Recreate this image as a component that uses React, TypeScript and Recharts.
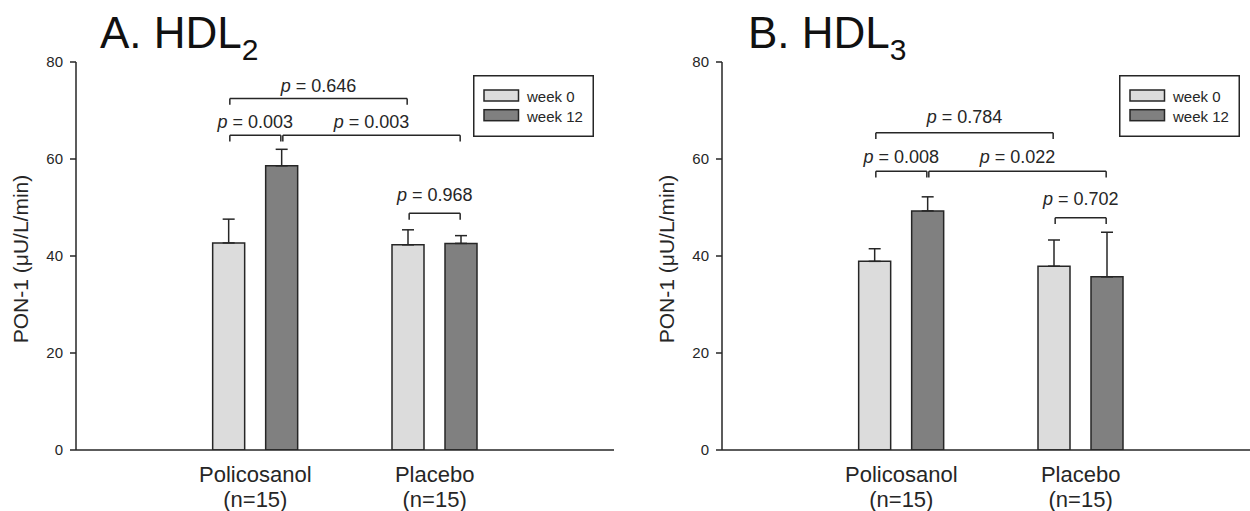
import React from 'react';
import { BarChart, Bar, XAxis, YAxis, ErrorBar, ReferenceLine, ReferenceDot, Legend } from 'recharts';

const FONT = '"Liberation Sans", Arial, Helvetica, sans-serif';
const INK = '#262626';

// ---- data ----
const categories = ['Policosanol', 'Placebo'];
const groupSizes = ['(n=15)', '(n=15)'];
const seriesNames = ['week 0', 'week 12'];
const seriesColors = ['#dcdcdc', '#808080'];
const yTicks = [0, 20, 40, 60, 80];

// Panel A: HDL2
const hdl2Week0 = [42.7, 42.3];
const hdl2Week0Err = [4.9, 3.1];
const hdl2Week12 = [58.6, 42.6];
const hdl2Week12Err = [3.4, 1.6];

// Panel B: HDL3
const hdl3Week0 = [38.9, 37.9];
const hdl3Week0Err = [2.6, 5.4];
const hdl3Week12 = [49.3, 35.7];
const hdl3Week12Err = [2.9, 9.2];

// comparisons: from/to = [group index, series index]
type Bracket = { from: [number, number]; to: [number, number]; y: number; labelY: number; p: string };
const hdl2Brackets: Bracket[] = [
  { from: [0, 0], to: [1, 0], y: 72.5, labelY: 73.9, p: '0.646' },
  { from: [0, 0], to: [0, 1], y: 64.9, labelY: 66.3, p: '0.003' },
  { from: [0, 1], to: [1, 1], y: 64.9, labelY: 66.3, p: '0.003' },
  { from: [1, 0], to: [1, 1], y: 48.8, labelY: 51.3, p: '0.968' },
];
const hdl3Brackets: Bracket[] = [
  { from: [0, 0], to: [1, 0], y: 65.4, labelY: 67.4, p: '0.784' },
  { from: [0, 0], to: [0, 1], y: 57.5, labelY: 59.1, p: '0.008' },
  { from: [0, 1], to: [1, 1], y: 57.5, labelY: 59.1, p: '0.022' },
  { from: [1, 0], to: [1, 1], y: 47.9, labelY: 50.5, p: '0.702' },
];

// ---- layout ----
const CHART_W = 625;
const CHART_H = 511;
const Y_AXIS_W = 76;
const TOP = 62;
const X_AXIS_H = 61;
const RIGHT = 11;
const PLOT_W = CHART_W - Y_AXIS_W - RIGHT;
const X_DOMAIN: [number, number] = [0, categories.length + 1];
const X_TICKS = categories.map((_, i) => i + 1);
const BAND = PLOT_W / (categories.length + 1);
const BAR_SIZE = 32;
const BAR_GAP = 21;
const SERIES_OFFSET = (BAR_SIZE + BAR_GAP) / 2 / BAND;
const INSET = 1 / BAND;
const TICK_LEN = 1.3;

const barX = (g: number, s: number) => g + 1 + (s === 0 ? -SERIES_OFFSET : SERIES_OFFSET);

function buildRows(w0: number[], e0: number[], w12: number[], e12: number[]) {
  return categories.map((name, i) => ({
    pos: i + 1,
    name,
    week0: w0[i],
    err0: [0, e0[i]],
    week12: w12[i],
    err12: [0, e12[i]],
  }));
}

const renderCategoryTick = (props: any) => {
  const { x, y, payload } = props;
  const idx = Math.round(Number(payload.value)) - 1;
  return (
    <text x={x} y={y} textAnchor="middle" fontSize={22} fill={INK} fontFamily={FONT}>
      <tspan x={x} dy={31.7}>{categories[idx]}</tspan>
      <tspan x={x} dy={25}>{groupSizes[idx]}</tspan>
    </text>
  );
};

const renderYLabel = (props: any) => {
  const vb = props.viewBox || { x: 0, y: TOP, width: Y_AXIS_W, height: 388 };
  const x = (vb.x || 0) + 28;
  const cy = vb.y + vb.height / 2 + 3;
  return (
    <text x={x} y={cy} transform={`rotate(-90 ${x} ${cy})`} textAnchor="middle" fontSize={21} fill={INK} fontFamily={FONT}>
      PON-1 (μU/L/min)
    </text>
  );
};

const renderLegend = (props: any) => {
  const payload = props.payload || [];
  return (
    <svg width={121} height={62} style={{ display: 'block' }}>
      <rect x={0.75} y={0.75} width={119.5} height={60.5} fill="#fff" stroke={INK} strokeWidth={1.5} />
      {payload.map((entry: any, i: number) => (
        <g key={i}>
          <rect x={11} y={15 + i * 19.7} width={34.5} height={11} fill={entry.color} stroke={INK} strokeWidth={1.5} />
          <text x={54} y={26.7 + i * 20} fontSize={15} fill={INK} fontFamily={FONT}>{entry.value}</text>
        </g>
      ))}
    </svg>
  );
};

const renderP = (props: any, value: string) => {
  const vb = props.viewBox || { x: 0, y: 0, width: 0, height: 0 };
  const cx = vb.x + (vb.width || 0) / 2;
  const cy = vb.y + (vb.height || 0) / 2;
  return (
    <text x={cx} y={cy} textAnchor="middle" fontSize={18} fill={INK} fontFamily={FONT}>
      <tspan fontStyle="italic">p</tspan>
      {' = ' + value}
    </text>
  );
};

function bracketElements(brackets: Bracket[]) {
  return brackets.flatMap((b, i) => {
    const x1 = barX(b.from[0], b.from[1]) + INSET;
    const x2 = barX(b.to[0], b.to[1]) - INSET;
    const mid = (x1 + x2) / 2;
    const common: any = { xAxisId: 'x', yAxisId: 'v', stroke: INK, strokeWidth: 1.5, ifOverflow: 'visible' };
    return [
      <ReferenceLine key={`h${i}`} {...common} segment={[{ x: x1, y: b.y }, { x: x2, y: b.y }]} />,
      <ReferenceLine key={`l${i}`} {...common} segment={[{ x: x1, y: b.y }, { x: x1, y: b.y - TICK_LEN }]} />,
      <ReferenceLine key={`r${i}`} {...common} segment={[{ x: x2, y: b.y }, { x: x2, y: b.y - TICK_LEN }]} />,
      <ReferenceDot
        key={`t${i}`}
        xAxisId="x"
        yAxisId="v"
        x={mid}
        y={b.labelY}
        r={1}
        fill="none"
        stroke="none"
        ifOverflow="visible"
        label={{ content: (p: any) => renderP(p, b.p) }}
      />,
    ];
  });
}

type PanelProps = {
  rows: any[];
  brackets: Bracket[];
  left: number;
  title: string;
  sub: string;
  titleLeft: number;
};

function Panel({ rows, brackets, left, title, sub, titleLeft }: PanelProps) {
  const axisLine = { stroke: INK, strokeWidth: 1.5 };
  return (
    <div style={{ position: 'absolute', left, top: 0, width: CHART_W, height: CHART_H }}>
      <BarChart
        width={CHART_W}
        height={CHART_H}
        data={rows}
        margin={{ top: TOP, right: RIGHT, bottom: 0, left: 0 }}
        barSize={BAR_SIZE}
        barGap={BAR_GAP}
      >
        <XAxis
          xAxisId="x"
          dataKey="pos"
          type="number"
          domain={X_DOMAIN}
          allowDataOverflow
          ticks={X_TICKS}
          height={X_AXIS_H}
          tickLine={false}
          tickSize={0}
          tickMargin={0}
          interval={0}
          axisLine={axisLine}
          tick={renderCategoryTick}
        />
        <XAxis
          xAxisId="top"
          dataKey="pos"
          type="number"
          orientation="top"
          domain={X_DOMAIN}
          allowDataOverflow
          height={0}
          tick={false}
          tickLine={false}
          axisLine={axisLine}
        />
        <YAxis
          yAxisId="v"
          domain={[0, 80]}
          allowDataOverflow
          ticks={yTicks}
          width={Y_AXIS_W}
          tickSize={6}
          tickMargin={7}
          tickLine={axisLine}
          axisLine={axisLine}
          tick={{ fontSize: 15, fill: INK, fontFamily: FONT }}
          label={{ content: renderYLabel }}
        />
        <YAxis
          yAxisId="frame"
          orientation="right"
          domain={[0, 80]}
          width={0}
          tick={false}
          tickLine={false}
          axisLine={axisLine}
        />
        <Legend
          layout="vertical"
          align="center"
          verticalAlign="middle"
          wrapperStyle={{ left: 473, top: 75, width: 121, height: 62 }}
          content={renderLegend}
        />
        <Bar
          xAxisId="x"
          yAxisId="v"
          dataKey="week0"
          name={seriesNames[0]}
          fill={seriesColors[0]}
          stroke={INK}
          strokeWidth={1.5}
          isAnimationActive={false}
        >
          <ErrorBar dataKey="err0" width={6} stroke={INK} strokeWidth={1.5} direction="y" />
        </Bar>
        <Bar
          xAxisId="x"
          yAxisId="v"
          dataKey="week12"
          name={seriesNames[1]}
          fill={seriesColors[1]}
          stroke={INK}
          strokeWidth={1.5}
          isAnimationActive={false}
        >
          <ErrorBar dataKey="err12" width={6} stroke={INK} strokeWidth={1.5} direction="y" />
        </Bar>
        {bracketElements(brackets)}
      </BarChart>
      <div
        style={{
          position: 'absolute',
          left: titleLeft,
          top: 11,
          fontFamily: FONT,
          fontSize: 44,
          lineHeight: '44px',
          color: '#111',
          whiteSpace: 'nowrap',
        }}
      >
        {title}
        <span style={{ fontSize: 30, position: 'relative', top: 12 }}>{sub}</span>
      </div>
    </div>
  );
}

export default function App() {
  const rowsA = buildRows(hdl2Week0, hdl2Week0Err, hdl2Week12, hdl2Week12Err);
  const rowsB = buildRows(hdl3Week0, hdl3Week0Err, hdl3Week12, hdl3Week12Err);
  return (
    <div
      style={{
        position: 'absolute',
        left: 0,
        top: 0,
        width: 1250,
        height: 511,
        overflow: 'hidden',
        background: '#fff',
      }}
    >
      <Panel rows={rowsA} brackets={hdl2Brackets} left={0} title="A. HDL" sub="2" titleLeft={100} />
      <Panel rows={rowsB} brackets={hdl3Brackets} left={646} title="B. HDL" sub="3" titleLeft={102} />
    </div>
  );
}
